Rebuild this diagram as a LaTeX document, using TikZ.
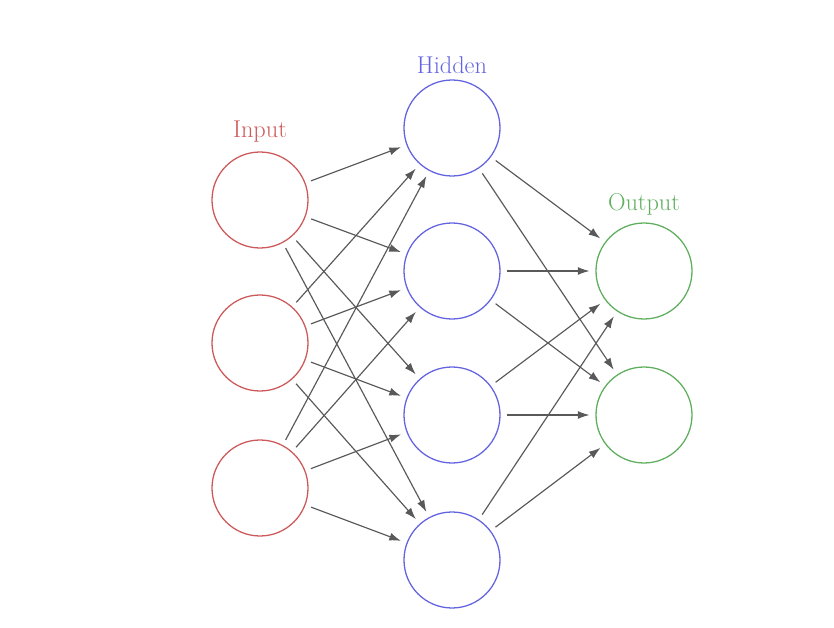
\documentclass[tikz,border=0pt]{standalone}
\usetikzlibrary{arrows.meta}
\definecolor{incol}{RGB}{205,90,90}
\definecolor{hidcol}{RGB}{100,100,225}
\definecolor{outcol}{RGB}{95,175,95}
\begin{document}
\begin{tikzpicture}[x=0.03cm,y=-0.03cm,
    neuron/.style={circle,draw,line width=1.1pt,minimum size=2.88cm,inner sep=0pt},
    link/.style={-{Latex[length=3.5mm,width=2.4mm]},draw=black!65,line width=1pt,
      shorten <=5pt,shorten >=5pt}]
    \useasboundingbox (0,0) rectangle (834,628);

    %% layers
    \foreach \name/\y in {1/200,2/343,3/488}
        \node[neuron,draw=incol] (I-\name) at (260,\y) {};
    \foreach \name/\y in {1/128,2/271,3/415,4/560}
        \node[neuron,draw=hidcol] (H-\name) at (452,\y) {};
    \foreach \name/\y in {1/271,2/415}
        \node[neuron,draw=outcol] (O-\name) at (644,\y) {};

    %% labels
    \node[text=incol,font=\huge] (lin) at (260,132) {Input};
    \node[text=hidcol,font=\huge] (lhid) at (452,65) {Hidden};
    \node[text=outcol,font=\huge] (lout) at (644,204) {Output};

    %% connections
    \foreach \i in {1,2,3}
        \foreach \h in {1,2,3,4}
            \draw[link] (I-\i) -- (H-\h);
    \foreach \h in {1,2,3,4}
        \foreach \o in {1,2}
            \draw[link] (H-\h) -- (O-\o);
\end{tikzpicture}
\end{document}
